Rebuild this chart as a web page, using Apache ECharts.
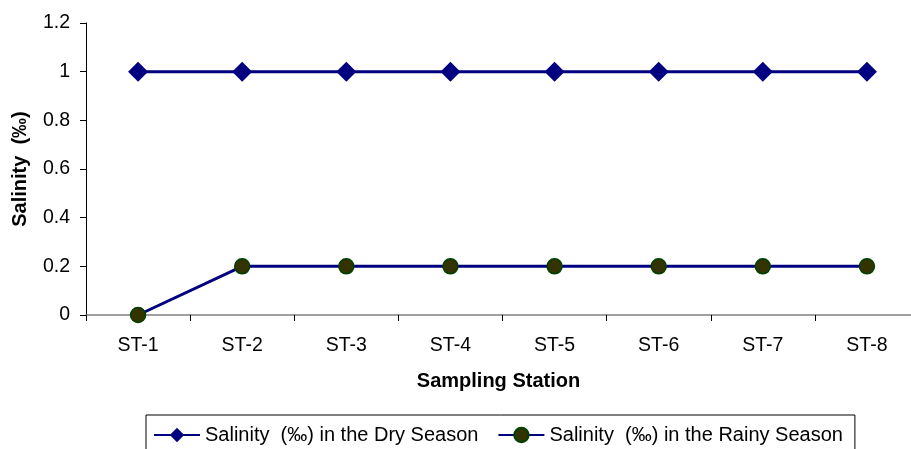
<!DOCTYPE html>
<html>
<head>
<meta charset="utf-8">
<script src="https://cdn.jsdelivr.net/npm/echarts@6/dist/echarts.min.js"></script>
<style>
  html, body { margin: 0; padding: 0; background: #fff; }
  #chart { width: 911px; height: 449px; }
</style>
</head>
<body>
<div id="chart"></div>
<script>
// Sampling stations along the x axis
const stations = ['ST-1', 'ST-2', 'ST-3', 'ST-4', 'ST-5', 'ST-6', 'ST-7', 'ST-8'];
// Salinity (‰) measured at each station
const drySeason = [1, 1, 1, 1, 1, 1, 1, 1];
const rainySeason = [0, 0.2, 0.2, 0.2, 0.2, 0.2, 0.2, 0.2];
// Value axis tick settings
const yMin = 0, yMax = 1.2, yStep = 0.2;

const font = 'Arial, "Liberation Sans", sans-serif';
const chart = echarts.init(document.getElementById('chart'), null, { renderer: 'canvas' });

chart.setOption({
  animation: false,
  backgroundColor: '#ffffff',
  grid: { left: 86, top: 23, width: 833, height: 292, containLabel: false, outerBoundsMode: 'none' },
  xAxis: {
    type: 'category',
    data: stations,
    boundaryGap: true,
    name: 'Sampling Station',
    nameLocation: 'middle',
    nameGap: 56,
    nameTextStyle: { fontFamily: font, fontSize: 20, fontWeight: 'bold', color: '#000', padding: [0, 0, 0, -8] },
    axisLine: { lineStyle: { color: '#808080', width: 1.5 } },
    axisTick: { show: true, alignWithLabel: false, length: 6, lineStyle: { color: '#000' } },
    axisLabel: { fontFamily: font, fontSize: 19.5, color: '#000', margin: 21 },
    splitLine: { show: false }
  },
  yAxis: {
    type: 'value',
    min: yMin,
    max: yMax,
    interval: yStep,
    name: 'Salinity  (‰)',
    nameLocation: 'middle',
    nameGap: 56,
    nameRotate: 90,
    nameTextStyle: { fontFamily: font, fontSize: 20, fontWeight: 'bold', color: '#000' },
    axisLine: { show: true, lineStyle: { color: '#000', width: 1 } },
    axisTick: { show: true, inside: false, length: 6, lineStyle: { color: '#000' } },
    axisLabel: { fontFamily: font, fontSize: 19.5, color: '#000', margin: 16,
      formatter: v => String(Math.round(v * 10) / 10) },
    splitLine: { show: false }
  },
  legend: {
    left: 146,
    top: 415,
    orient: 'horizontal',
    itemWidth: 46,
    itemHeight: 18,
    itemGap: 19,
    padding: [10, 12, 8, 7],
    borderColor: '#000',
    borderWidth: 1,
    textStyle: { fontFamily: font, fontSize: 20, color: '#000' },
    data: ['Salinity  (‰) in the Dry Season', 'Salinity  (‰) in the Rainy Season']
  },
  series: [
    {
      name: 'Salinity  (‰) in the Dry Season',
      type: 'line',
      data: drySeason,
      symbol: 'diamond',
      symbolSize: [20, 20],
      lineStyle: { color: '#000080', width: 3 },
      itemStyle: { color: '#000080', borderColor: '#000080', borderWidth: 0 },
      z: 3
    },
    {
      name: 'Salinity  (‰) in the Rainy Season',
      type: 'line',
      data: rainySeason,
      symbol: 'circle',
      symbolSize: 15,
      lineStyle: { color: '#000080', width: 3 },
      itemStyle: { color: '#333300', borderColor: '#004000', borderWidth: 1.5 },
      z: 3
    }
  ]
});
</script>
</body>
</html>
